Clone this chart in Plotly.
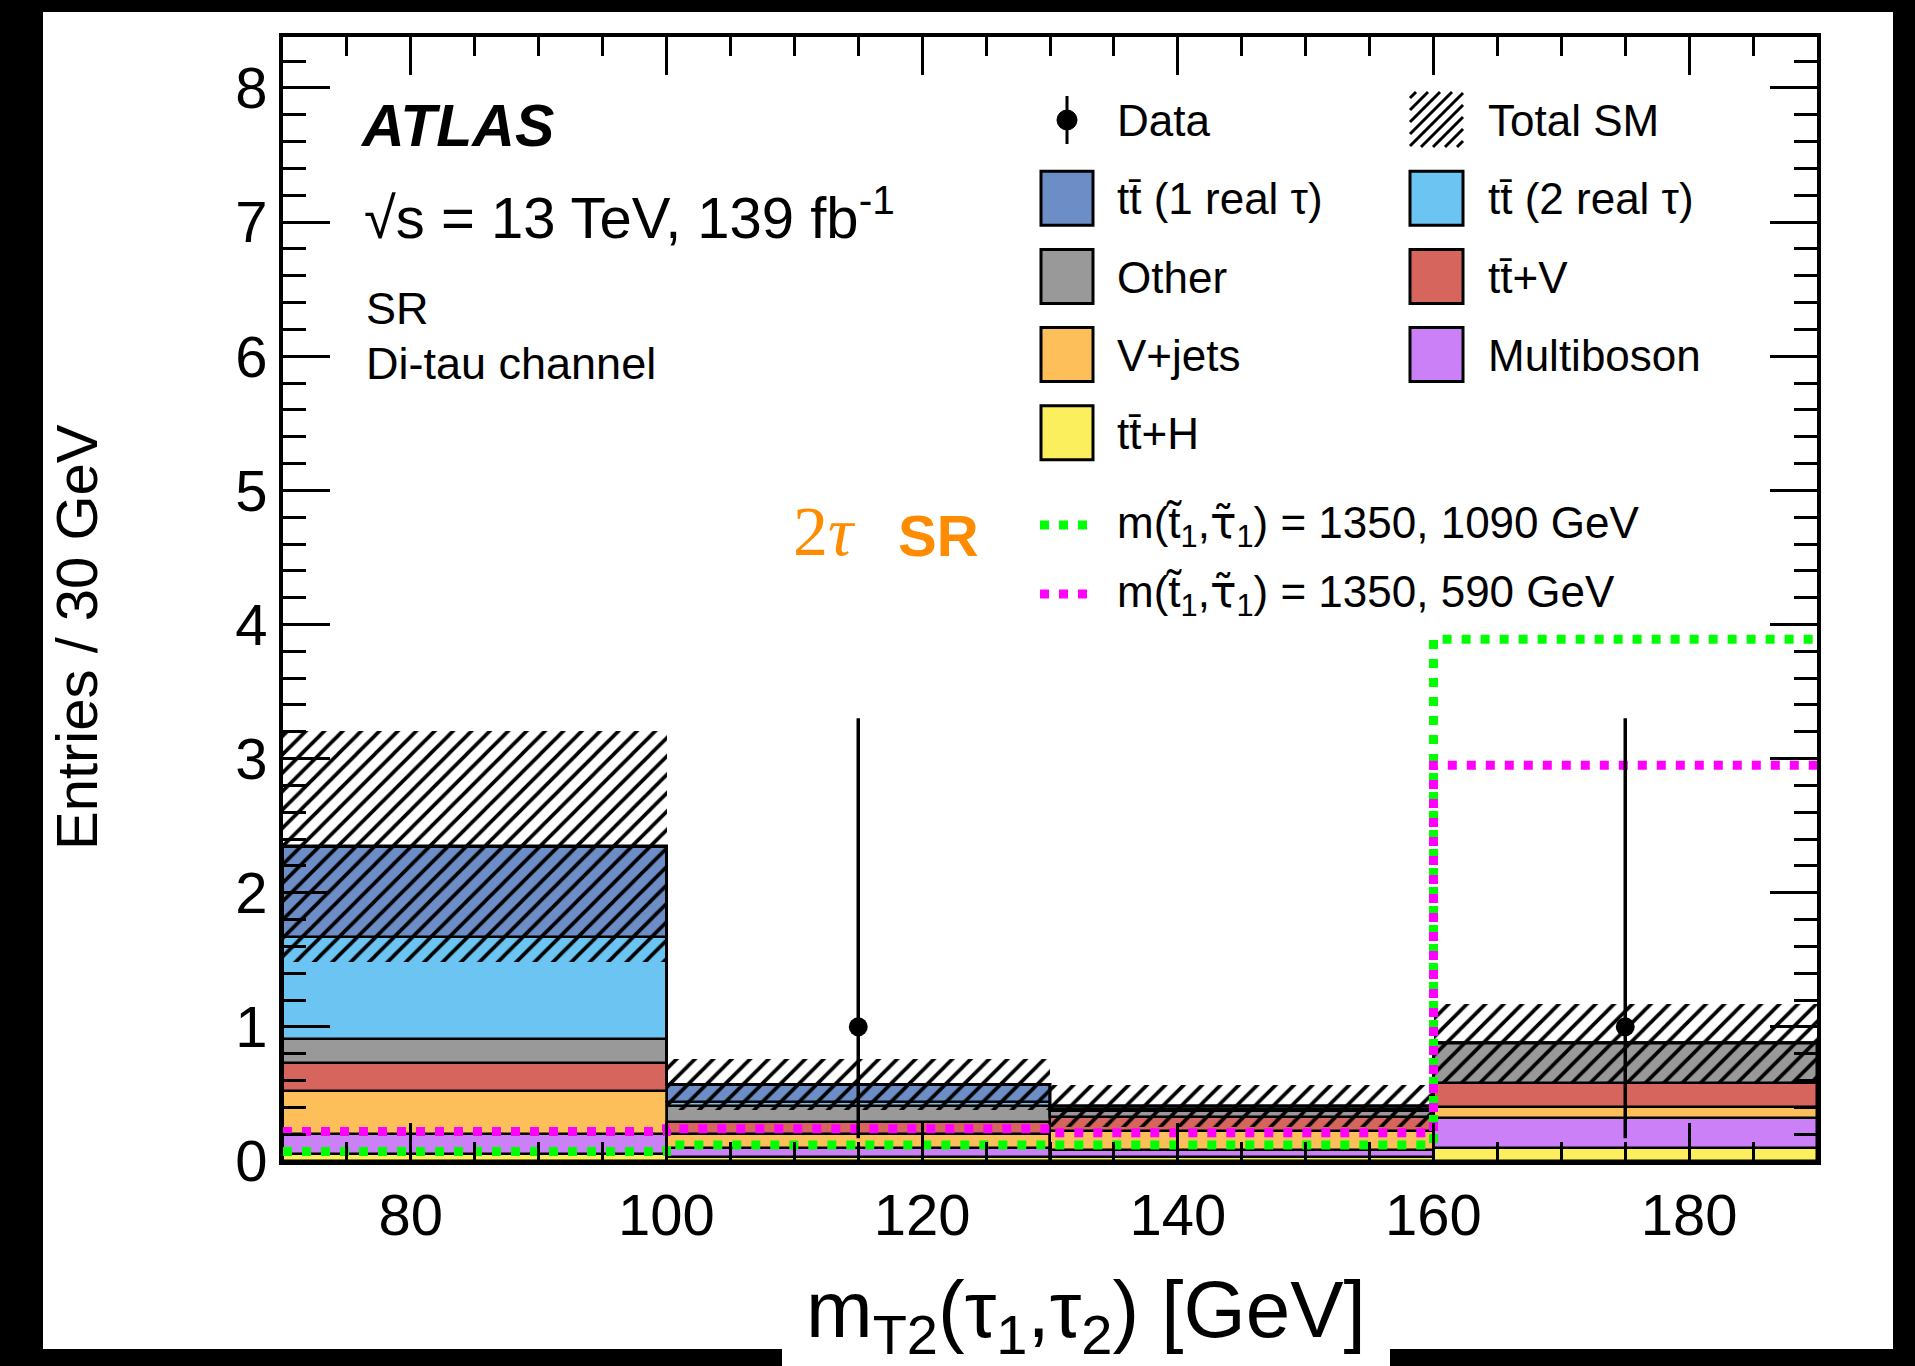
import plotly.graph_objects as go

# ---------------- data ----------------
bin_edges = [70, 100, 130, 160, 190]
bin_centers = [85, 115, 145, 175]
bin_width = 30

# background yields per bin, listed bottom-to-top of the stack
ttH = [0.05, 0.03, 0.03, 0.10]
multiboson = [0.15, 0.07, 0.05, 0.22]
vjets = [0.32, 0.10, 0.14, 0.08]
ttV = [0.21, 0.09, 0.11, 0.18]
other = [0.18, 0.12, 0.04, 0.30]
tt_2real = [0.76, 0.03, 0.02, 0.00]
tt_1real = [0.675, 0.13, 0.02, 0.00]
total_sm_unc = [0.86, 0.19, 0.16, 0.29]

data_counts = [0, 1, 0, 1]
data_err_up = [0.0, 2.30, 0.0, 2.30]
data_err_down = [0.0, 0.83, 0.0, 0.83]

signal_1090 = [0.07, 0.12, 0.12, 3.89]
signal_590 = [0.22, 0.24, 0.21, 2.95]

bkg_labels = ["tt\u0304+H", "Multiboson", "V+jets", "tt\u0304+V", "Other",
              "tt\u0304 (2 real \u03c4)", "tt\u0304 (1 real \u03c4)"]
bkg_values = [ttH, multiboson, vjets, ttV, other, tt_2real, tt_1real]
bkg_colors = ["#FBEF5E", "#CC80F7", "#FDBF5A", "#D6665D", "#999999", "#6BC4F2", "#6C8DC6"]

STAU = '<span style="font-family:DejaVu Sans">\u03c4\u0303</span>'
signal_labels = ["m(t\u0303<sub>1</sub>," + STAU + "<sub>1</sub>) = 1350, 1090 GeV",
                 "m(t\u0303<sub>1</sub>," + STAU + "<sub>1</sub>) = 1350, 590 GeV"]
signal_colors = ["#00FF00", "#FF00FF"]

# ---------------- geometry helpers (pixel -> paper) ----------------
FIG_W, FIG_H = 1915, 1366
L, R, T, B = 283, 1817, 37, 1161
PW, PH = R - L, B - T
FONT = "Liberation Sans, Arial, Helvetica, sans-serif"


def px(xp):
    return (xp - L) / PW


def py(yp):
    return (B - yp) / PH


fig = go.Figure()

# ---------------- stacked backgrounds ----------------
cum = [0.0] * len(bin_centers)
for vals, col, name in zip(bkg_values, bkg_colors, bkg_labels):
    fig.add_trace(go.Bar(
        x=bin_centers, y=vals, base=list(cum), width=[bin_width] * len(bin_centers),
        marker=dict(color=col, line=dict(color="black", width=2.5)),
        name=name, showlegend=False, hoverinfo="skip"))
    cum = [c + v for c, v in zip(cum, vals)]
totals = cum

# total SM uncertainty (hatched)
fig.add_trace(go.Bar(
    x=bin_centers, y=[2 * u for u in total_sm_unc],
    base=[t - u for t, u in zip(totals, total_sm_unc)],
    width=[bin_width] * len(bin_centers),
    marker=dict(color="rgba(0,0,0,0)", line=dict(width=0),
                pattern=dict(shape="/", fgcolor="black", bgcolor="rgba(0,0,0,0)",
                             fgopacity=1, size=13, solidity=0.28, fillmode="overlay")),
    name="Total SM", showlegend=False, hoverinfo="skip"))

# total SM outline
fig.add_trace(go.Scatter(
    x=bin_edges, y=totals + [totals[-1]], mode="lines", line_shape="hv",
    line=dict(color="black", width=3), showlegend=False, hoverinfo="skip"))

# signal benchmark points
for sig, col in zip([signal_1090, signal_590], signal_colors):
    fig.add_trace(go.Scatter(
        x=bin_edges, y=sig + [sig[-1]], mode="lines", line_shape="hv",
        line=dict(color=col, width=9, dash="9px,10px"),
        showlegend=False, hoverinfo="skip"))

# data
dx = [c for c, n in zip(bin_centers, data_counts) if n > 0]
dy = [n for n in data_counts if n > 0]
dup = [e for e, n in zip(data_err_up, data_counts) if n > 0]
ddn = [e for e, n in zip(data_err_down, data_counts) if n > 0]
fig.add_trace(go.Scatter(
    x=dx, y=dy, mode="markers",
    marker=dict(color="black", size=19),
    error_y=dict(type="data", symmetric=False, array=dup, arrayminus=ddn,
                 color="black", thickness=3.5, width=0),
    showlegend=False, hoverinfo="skip"))

# ---------------- page background ----------------
shapes = [
    dict(type="rect", xref="paper", yref="paper", layer="below",
         x0=px(43), x1=px(1893), y0=py(1349), y1=py(12),
         fillcolor="white", line=dict(width=0)),
    dict(type="rect", xref="paper", yref="paper", layer="below",
         x0=px(782), x1=px(1390), y0=py(1366), y1=py(1348),
         fillcolor="white", line=dict(width=0)),
]

annotations = []


def text(xp, yp_base, s, size, anchor="left", color="black", family=FONT):
    annotations.append(dict(
        xref="paper", yref="paper", x=px(xp), y=py(yp_base - 0.3465 * size),
        xanchor=anchor, yanchor="middle", text=s, showarrow=False,
        font=dict(family=family, size=size, color=color)))


# ---------------- labels ----------------
text(358, 146, "<b><i>ATLAS</i></b>", 59)
text(362, 234, "\u221as = 13 TeV, 139 fb<sup>-1</sup>", 58)
text(364, 324, "SR", 45)
text(364, 379, "Di-tau channel", 45)

text(791, 556, "2<i>\u03c4</i>", 70, color="#FF8C00",
     family="Liberation Serif, Times New Roman, serif")
text(896, 556, "<b>SR</b>", 58, color="#FF8C00")

# ---------------- legend ----------------
row_y = [120 + 78.2 * i for i in range(5)]
col_box = [(1041, 1093), (1410, 1463)]
col_txt = [1115, 1486]
legend_fs = 44

legend_cells = [
    (0, 1, "tt\u0304 (1 real \u03c4)", bkg_colors[6]),
    (1, 1, "tt\u0304 (2 real \u03c4)", bkg_colors[5]),
    (0, 2, "Other", bkg_colors[4]),
    (1, 2, "tt\u0304+V", bkg_colors[3]),
    (0, 3, "V+jets", bkg_colors[2]),
    (1, 3, "Multiboson", bkg_colors[1]),
    (0, 4, "tt\u0304+H", bkg_colors[0]),
]
for col, row, lab, colr in legend_cells:
    x0, x1 = col_box[col]
    yc = row_y[row]
    shapes.append(dict(type="rect", xref="paper", yref="paper",
                       x0=px(x0), x1=px(x1), y0=py(yc + 27), y1=py(yc - 27),
                       fillcolor=colr, line=dict(color="black", width=3)))
    text(col_txt[col], yc + 16, lab, legend_fs)

# Data entry
cx = (col_box[0][0] + col_box[0][1]) / 2
shapes.append(dict(type="line", xref="paper", yref="paper",
                   x0=px(cx), x1=px(cx), y0=py(row_y[0] + 24), y1=py(row_y[0] - 24),
                   line=dict(color="black", width=3)))
shapes.append(dict(type="circle", xref="paper", yref="paper",
                   x0=px(cx - 10), x1=px(cx + 10), y0=py(row_y[0] + 10), y1=py(row_y[0] - 10),
                   fillcolor="black", line=dict(color="black", width=1)))
text(col_txt[0], row_y[0] + 16, "Data", legend_fs)

# Total SM hatch entry
hx0, hx1 = col_box[1]
hy_top, hy_bot = row_y[0] - 28, row_y[0] + 27
w_h, h_h = hx1 - hx0, hy_bot - hy_top
step = 12
c = -h_h + step / 2
while c < w_h:
    u0, u1 = max(0, c), min(w_h, h_h + c)
    if u1 > u0:
        shapes.append(dict(type="line", xref="paper", yref="paper",
                           x0=px(hx0 + u0), x1=px(hx0 + u1),
                           y0=py(hy_bot - (u0 - c)), y1=py(hy_bot - (u1 - c)),
                           line=dict(color="black", width=3)))
    c += step
text(col_txt[1], row_y[0] + 16, "Total SM", legend_fs)

# signal entries
for yc, lab, colr in zip([525, 594], signal_labels, signal_colors):
    shapes.append(dict(type="line", xref="paper", yref="paper",
                       x0=px(1040), x1=px(1090), y0=py(yc), y1=py(yc),
                       line=dict(color=colr, width=9, dash="9px,10px")))
    text(col_txt[0], yc + 16, lab, legend_fs)

# ---------------- axis titles ----------------
annotations.append(dict(
    xref="paper", yref="paper", x=px(76), y=py(637), xanchor="center", yanchor="middle",
    text="Entries / 30 GeV", textangle=-90, showarrow=False,
    font=dict(family=FONT, size=58, color="black")))
annotations.append(dict(
    xref="paper", yref="paper", x=px(1086), y=py(1335 - 0.905 * 80), xanchor="center",
    yanchor="top", text="m<sub>T2</sub>(\u03c4<sub>1</sub>,\u03c4<sub>2</sub>) [GeV]",
    showarrow=False, font=dict(family=FONT, size=80, color="black")))

axis_common = dict(
    showline=True, linecolor="black", linewidth=4, mirror="allticks",
    ticks="inside", tickcolor="black", tickwidth=3,
    showgrid=False, zeroline=False,
    tickfont=dict(family=FONT, size=58, color="black"),
)

fig.update_layout(
    width=FIG_W, height=FIG_H,
    margin=dict(l=L, r=FIG_W - R, t=T, b=FIG_H - B, pad=0),
    paper_bgcolor="black", plot_bgcolor="white",
    barmode="overlay", bargap=0,
    showlegend=False,
    shapes=shapes, annotations=annotations,
    xaxis=dict(range=[70, 190], tickvals=[80, 100, 120, 140, 160, 180], ticklen=38,
               minor=dict(dtick=5, tick0=70, ticks="inside", ticklen=19, tickwidth=3,
                          tickcolor="black", showgrid=False),
               **axis_common),
    yaxis=dict(range=[0, 8.38], dtick=1, tick0=0, ticklen=47,
               minor=dict(dtick=0.2, tick0=0, ticks="inside", ticklen=23, tickwidth=3,
                          tickcolor="black", showgrid=False),
               **axis_common),
)

fig.write_html("out.html")
